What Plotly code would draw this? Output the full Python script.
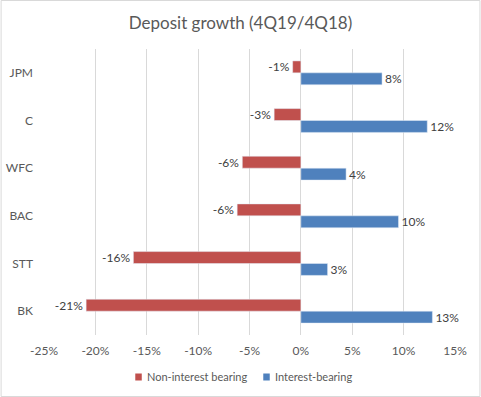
import plotly.graph_objects as go

banks = ["JPM", "C", "WFC", "BAC", "STT", "BK"]
non_interest = [-0.8, -2.6, -5.7, -6.2, -16.3, -20.9]
interest = [7.9, 12.3, 4.4, 9.5, 2.6, 12.8]
tick_vals = [-25, -20, -15, -10, -5, 0, 5, 10, 15]
tick_text = ["-25%", "-20%", "-15%", "-10%", "-5%", "0%", "5%", "10%", "15%"]
series_names = ["Non-interest bearing", "Interest-bearing"]
series_colors = ["#C0504D", "#4F81BD"]

W, H = 481, 397
L, R, T, B = 43.5, 25.5, 49, 62
pw, ph = W - L - R, H - T - B


def px_x(x):
    return (x - L) / pw


def px_y(y):
    return 1 - (y - T) / ph


FONT = "Lato, 'Open Sans', sans-serif"
fig = go.Figure()
for vals, name, color in [(non_interest, series_names[0], series_colors[0]),
                          (interest, series_names[1], series_colors[1])]:
    fig.add_trace(go.Bar(
        y=banks, x=vals, orientation="h", name=name,
        marker=dict(color=color),
        text=[f"{round(v):d}%" for v in vals], textposition="outside",
        constraintext="none", hoverinfo="skip",
        textfont=dict(color="#404040", size=12, family=FONT), cliponaxis=False,
    ))

fig.update_layout(
    width=W, height=H,
    margin=dict(l=L, r=R, t=T, b=B, pad=0, autoexpand=False),
    paper_bgcolor="white", plot_bgcolor="white",
    barmode="group", bargap=0.5, bargroupgap=0,
    font=dict(family=FONT, color="#595959", size=12),
    title=dict(text="Deposit growth (4Q19/4Q18)", x=0.5, xanchor="center",
               y=1 - 23 / H, yanchor="middle",
               font=dict(size=17, color="#595959", family=FONT)),
    xaxis=dict(range=[-25, 15], tickvals=tick_vals, ticktext=tick_text,
               showgrid=True, gridcolor="#D9D9D9", gridwidth=1,
               zeroline=True, zerolinecolor="#D9D9D9", zerolinewidth=1,
               showline=False, ticks="", tickfont=dict(size=12, color="#595959"),
               ticklabelstandoff=7, automargin=False, fixedrange=True),
    yaxis=dict(autorange="reversed", showgrid=False, showline=False, ticks="",
               ticklabelstandoff=10, automargin=False, fixedrange=True,
               tickfont=dict(size=12, color="#595959")),
    showlegend=False,
)

# manual legend (Excel-like compact layout)
legend_items = [(135, 144.5), (263.3, 273.3)]
for (sx, tx), name, color in zip(legend_items, series_names, series_colors):
    fig.add_shape(type="rect", xref="paper", yref="paper",
                  x0=px_x(sx), x1=px_x(sx + 6.5), y0=px_y(373.5), y1=px_y(380.5),
                  line=dict(width=0), fillcolor=color)
    fig.add_annotation(xref="paper", yref="paper", x=px_x(tx), y=px_y(376.5),
                       xanchor="left", yanchor="middle", showarrow=False,
                       text=name, font=dict(size=11, color="#595959", family=FONT))

fig.add_shape(type="rect", xref="paper", yref="paper",
              x0=-(L - 0.5) / pw, x1=1 + (R - 0.5) / pw,
              y0=-(B - 0.5) / ph, y1=1 + (T - 0.5) / ph,
              line=dict(color="#D9D9D9", width=1), fillcolor="rgba(0,0,0,0)", layer="below")

fig.write_html(
    "out.html",
    config={"displayModeBar": False, "staticPlot": True},
    post_script="document.body.style.margin='0';document.body.style.overflow='hidden';",
)
